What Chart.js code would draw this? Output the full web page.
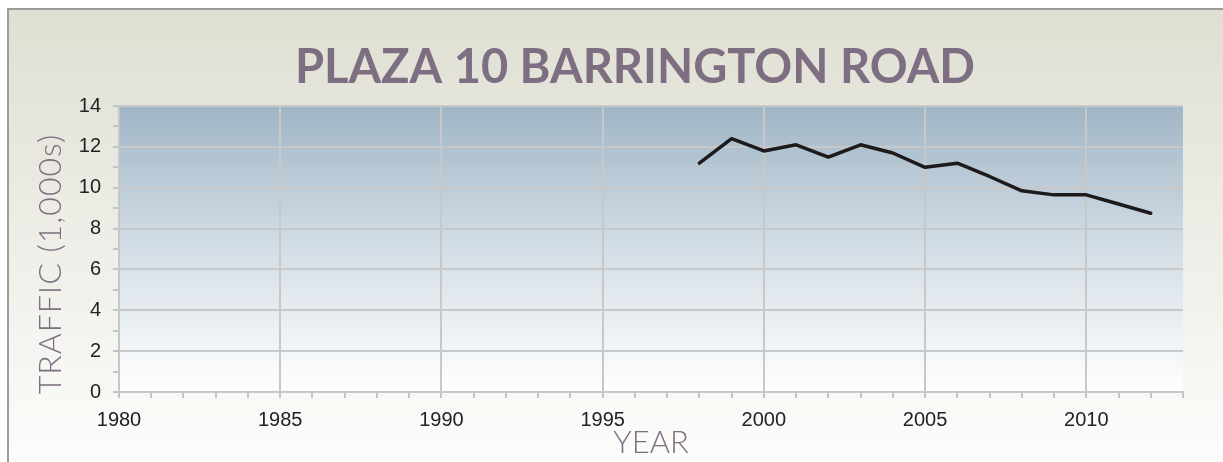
<!DOCTYPE html>
<html>
<head>
<meta charset="utf-8">
<script src="https://cdn.jsdelivr.net/npm/chart.js@4"></script>
<style>
  body { margin: 0; background: #ffffff; }
  canvas { display: block; }
</style>
</head>
<body>
<canvas id="traffic-chart" width="1223" height="462"></canvas>
<script>
const years = [1998, 1999, 2000, 2001, 2002, 2003, 2004, 2005, 2006, 2007, 2008, 2009, 2010, 2011, 2012];
const traffic = [11.2, 12.4, 11.8, 12.1, 11.5, 12.1, 11.7, 11.0, 11.2, 10.55, 9.85, 9.65, 9.65, 9.2, 8.75];
const xRange = [1980, 2013];
const yRange = [0, 14];

const chartTitle = 'PLAZA 10 BARRINGTON ROAD';
const xTitle = 'YEAR';
const yTitle = 'TRAFFIC (1,000s)';

const canvas = document.getElementById('traffic-chart');

// backgrounds: whole card + the plot area
const backdrop = {
    id: 'backdrop',
    beforeDraw(chart) {
        const c = chart.ctx;
        const w = chart.width, h = chart.height;
        let g = c.createLinearGradient(0, 0, 0, h);
        g.addColorStop(0, '#dfded2');
        g.addColorStop(1, '#fcfcfb');
        c.save();
        c.fillStyle = '#ffffff';
        c.fillRect(0, 0, w, h);
        c.fillStyle = g;
        c.fillRect(7, 8, w - 7, h - 8);
        c.strokeStyle = '#9c9c9c';
        c.lineWidth = 2;
        c.beginPath();
        c.moveTo(8, h);
        c.lineTo(8, 9);
        c.lineTo(w, 9);
        c.stroke();

        const a = chart.chartArea;
        g = c.createLinearGradient(0, a.top, 0, a.bottom);
        g.addColorStop(0, '#a0b5c5');
        g.addColorStop(0.45, '#cfdae3');
        g.addColorStop(1, '#ffffff');
        c.fillStyle = g;
        c.fillRect(a.left, a.top, a.right - a.left, a.bottom - a.top);
        c.restore();
    }
};

// big heading and the vertical axis name (sits a bit low in the original)
const labels = {
    id: 'labels',
    afterDraw(chart) {
        const c = chart.ctx;
        c.save();
        c.fillStyle = '#7e6e81';
        c.font = 'bold 47px Lato';
        c.textAlign = 'center';
        c.textBaseline = 'alphabetic';
        c.fillText(chartTitle, 635, 83);

        c.translate(51, 264);
        c.rotate(-Math.PI / 2);
        c.font = '300 32px Lato';
        c.letterSpacing = '1px';
        c.textBaseline = 'middle';
        c.fillText(yTitle, 0, 0);
        c.restore();
    }
};

new Chart(canvas, {
    type: 'line',
    data: {
        datasets: [{
            data: years.map((yr, i) => ({ x: yr, y: traffic[i] })),
            borderColor: '#1c1a1b',
            borderWidth: 3.5,
            pointRadius: 0,
            tension: 0,
            borderJoinStyle: 'round',
            borderCapStyle: 'round'
        }]
    },
    options: {
        responsive: false,
        animation: false,
        layout: { padding: { left: 32, right: 40, top: 106, bottom: 0 } },
        plugins: {
            legend: { display: false },
            tooltip: { enabled: false },
            title: { display: false }
        },
        scales: {
            x: {
                type: 'linear',
                min: xRange[0],
                max: xRange[1],
                afterFit: (scale) => { scale.height = 70; },
                ticks: {
                    stepSize: 1,
                    autoSkip: false,
                    maxRotation: 0,
                    color: '#222222',
                    padding: 10,
                    font: { family: 'Liberation Sans', size: 20 },
                    callback: (v) => (v % 5 === 0 ? String(v) : '')
                },
                grid: {
                    color: (ctx) => (ctx.tick && ctx.tick.value % 5 === 0 ? '#c8c8c8' : 'rgba(0,0,0,0)'),
                    tickColor: '#c4c4c4',
                    lineWidth: 2,
                    tickLength: 6
                },
                border: { color: '#c2c8cd', width: 2 },
                title: {
                    display: true,
                    text: xTitle,
                    color: '#7e6e81',
                    font: { family: 'Lato', size: 31, weight: '300' },
                    padding: { top: 4, bottom: 0 }
                }
            },
            y: {
                min: yRange[0],
                max: yRange[1],
                afterFit: (scale) => { scale.width = 87; },
                ticks: {
                    stepSize: 1,
                    autoSkip: false,
                    color: '#222222',
                    padding: 12,
                    font: { family: 'Liberation Sans', size: 20 },
                    callback: (v) => (v % 2 === 0 ? String(v) : '')
                },
                grid: {
                    color: (ctx) => (ctx.tick && ctx.tick.value % 2 === 0 ? '#c8c8c8' : 'rgba(0,0,0,0)'),
                    tickColor: '#c4c4c4',
                    lineWidth: 2,
                    tickLength: 6
                },
                border: { color: '#c2c8cd', width: 2 }
            }
        }
    },
    plugins: [backdrop, labels]
});
</script>
</body>
</html>
